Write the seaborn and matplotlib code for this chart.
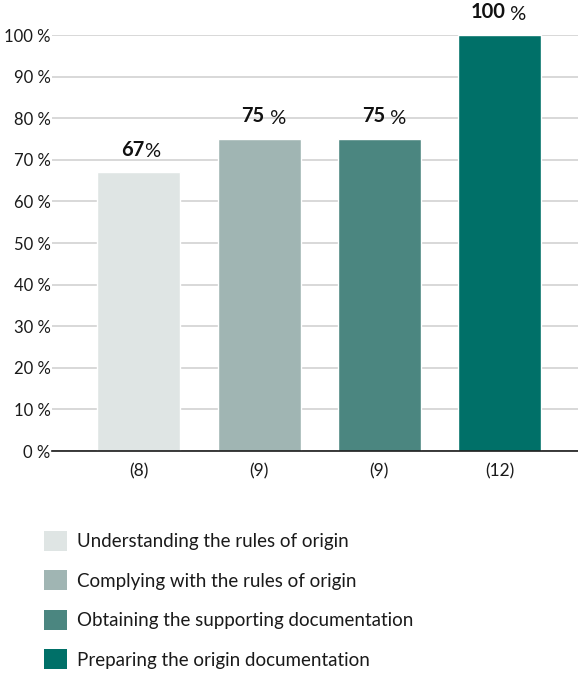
import matplotlib
matplotlib.use("Agg")
import matplotlib.pyplot as plt
from matplotlib.patches import Patch
import seaborn as sns
import pandas as pd

# Share of respondents reporting each step, with number of responses
steps = [
    "Understanding the rules of origin",
    "Complying with the rules of origin",
    "Obtaining the supporting documentation",
    "Preparing the origin documentation",
]
shares = [67, 75, 75, 100]
share_labels = ["67", "75", "75", "100"]
share_seps = ["", " ", " ", " "]
counts = ["(8)", "(9)", "(9)", "(12)"]
y_ticks = [0, 10, 20, 30, 40, 50, 60, 70, 80, 90, 100]
colors = ["#dfe5e4", "#a0b5b3", "#4b8680", "#007068"]

sns.set_theme(style="white")
plt.rcParams["font.family"] = ["Lato", "DejaVu Sans"]

df = pd.DataFrame({"step": steps, "share": shares})

fig = plt.figure(figsize=(5.78, 6.75), dpi=100)
ax = fig.add_axes([52 / 578, 1 - 451 / 675, 1 - 52 / 578, (451 - 35) / 675])

sns.barplot(data=df, x="step", y="share", hue="step", palette=colors,
            width=0.69, legend=False, ax=ax, saturation=1)

ax.set_xlim(-0.72, 3.65)
ax.set_ylim(0, 100)
ax.set_yticks(y_ticks)
ax.set_yticklabels([f"{t} %" for t in y_ticks], fontsize=12, color="#1a1a1a")
ax.set_xticks(range(len(counts)))
ax.set_xticklabels(counts, fontsize=12.5, color="#1a1a1a")
ax.tick_params(axis="both", length=0)
ax.tick_params(axis="y", pad=1)
ax.tick_params(axis="x", pad=9)
ax.set_xlabel("")
ax.set_ylabel("")
ax.set_axisbelow(True)
ax.yaxis.grid(True, color="#d2d2d2", linewidth=1.2)
for side in ["top", "right", "left"]:
    ax.spines[side].set_visible(False)
ax.spines["bottom"].set_color("#1a1a1a")
ax.spines["bottom"].set_linewidth(1.2)

# Value labels: bold number followed by a regular percent sign
for i, (v, num, sep) in enumerate(zip(shares, share_labels, share_seps)):
    ax.annotate(num, (i, v), xytext=(4, 9), textcoords="offset points",
                ha="right", va="bottom", fontsize=14.5, fontweight="bold",
                color="#111111", annotation_clip=False)
    ax.annotate(sep + "%", (i, v), xytext=(4, 9), textcoords="offset points",
                ha="left", va="bottom", fontsize=14.5, color="#111111",
                annotation_clip=False)

handles = [Patch(facecolor=c, edgecolor="none") for c in colors]
fig.legend(handles, steps, loc="upper left",
           bbox_to_anchor=(27 / 578, 1 - 514 / 675), frameon=False,
           fontsize=13.5, handlelength=1.25, handleheight=1.25,
           labelspacing=1.05, handletextpad=0.5, labelcolor="#1a1a1a")

fig.savefig("out.png", dpi=100)
